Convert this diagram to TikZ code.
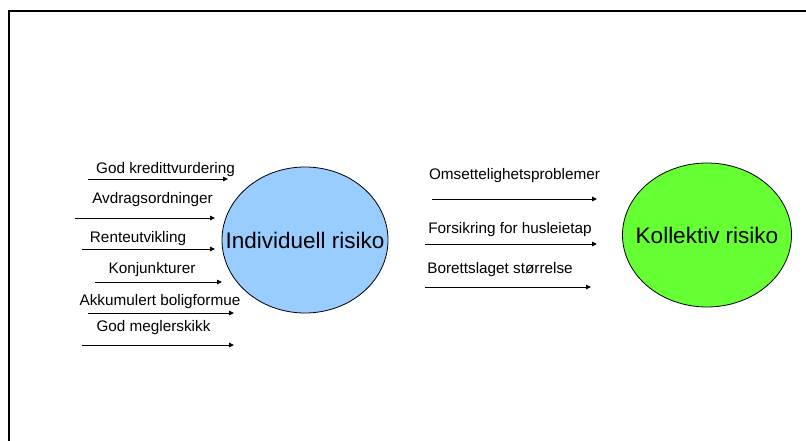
\documentclass[tikz,border=0pt]{standalone}
\usepackage{fontspec}
\setmainfont{Liberation Sans}
\usetikzlibrary{shapes.geometric,arrows.meta}

\definecolor{riskblue}{RGB}{153,204,255}
\definecolor{riskgreen}{RGB}{102,255,51}

\tikzset{
  lbl/.style={inner sep=0pt, font=\fontsize{15.3}{18}\selectfont},
  arr/.style={line width=0.9pt, -{Triangle[length=5pt,width=4.5pt]}},
  risk/.style={ellipse, draw, line width=0.8pt, inner sep=0pt, font=\fontsize{22.5}{27}\selectfont}
}

\begin{document}
\begin{tikzpicture}[x=1pt,y=-1pt]
    % Frame and the two risk circles
    \useasboundingbox (0,0) rectangle (806,441);
    \draw[line width=2pt] (9,441) |- (806,11);

    \node[risk, fill=riskblue, minimum width=166pt, minimum height=146pt] (indiv) at (305,240) {\makebox[0pt][c]{Individuell risiko}};
    \node[risk, fill=riskgreen, minimum width=169pt, minimum height=144pt] (koll) at (707,235) {\makebox[0pt][c]{Kollektiv risiko}};

    % Left factors
    \node[lbl] (kreditt) at (165.5,170) {God kredittvurdering};
    \node[lbl] (avdrag) at (152.5,200) {Avdragsordninger};
    \node[lbl] (rente) at (138,239) {Renteutvikling};
    \node[lbl] (konj) at (152,270) {Konjunkturer};
    \node[lbl] (akk) at (160,302) {Akkumulert boligformue};
    \node[lbl] (megler) at (153.5,328) {God meglerskikk};

    \coordinate (kreditt-s) at (88,179);  \coordinate (kreditt-e) at (228,179);
    \coordinate (avdrag-s) at (75,218);   \coordinate (avdrag-e) at (215,218);
    \coordinate (rente-s) at (82,249);    \coordinate (rente-e) at (215,249);
    \coordinate (konj-s) at (95,282);     \coordinate (konj-e) at (222,282);
    \coordinate (akk-s) at (88,313);      \coordinate (akk-e) at (234,313);
    \coordinate (megler-s) at (82,345);   \coordinate (megler-e) at (234,345);

    \draw[arr] (kreditt-s) -- (kreditt-e);
    \draw[arr] (avdrag-s) -- (avdrag-e);
    \draw[arr] (rente-s) -- (rente-e);
    \draw[arr] (konj-s) -- (konj-e);
    \draw[arr] (akk-s) -- (akk-e);
    \draw[arr] (megler-s) -- (megler-e);

    % Right factors
    \node[lbl] (omsett) at (514.5,176) {Omsettelighetsproblemer};
    \node[lbl] (forsikr) at (510,230) {Forsikring for husleietap};
    \node[lbl] (borett) at (500,270) {Borettslaget størrelse};

    \coordinate (omsett-s) at (432,199);  \coordinate (omsett-e) at (597,199);
    \coordinate (forsikr-s) at (425,244); \coordinate (forsikr-e) at (597,244);
    \coordinate (borett-s) at (425,287);  \coordinate (borett-e) at (591,287);

    \draw[arr] (omsett-s) -- (omsett-e);
    \draw[arr] (forsikr-s) -- (forsikr-e);
    \draw[arr] (borett-s) -- (borett-e);
\end{tikzpicture}
\end{document}
